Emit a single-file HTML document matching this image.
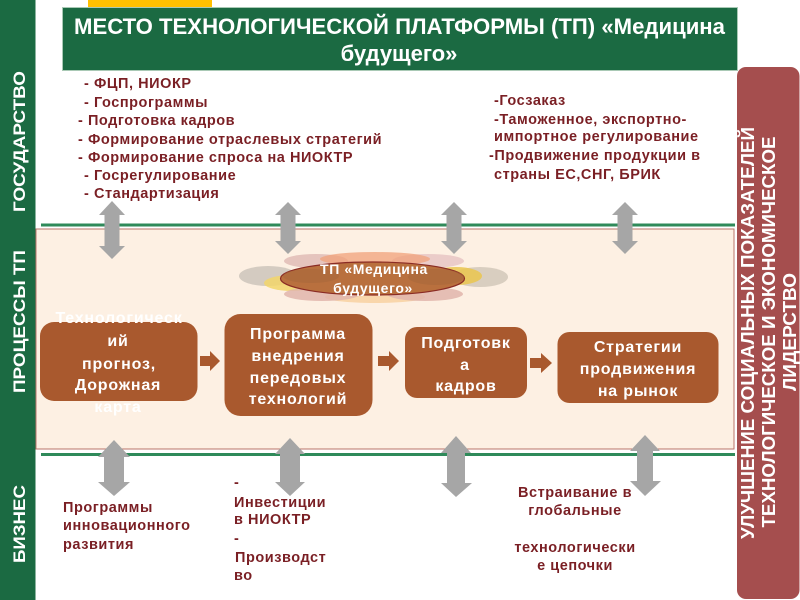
<!DOCTYPE html>
<html lang="ru">
<head>
<meta charset="utf-8">
<title>Место технологической платформы</title>
<style>
html,body{margin:0;padding:0;background:#fff;width:800px;height:600px;overflow:hidden}
svg{display:block;filter:blur(.35px)}
text{font-family:"Liberation Sans",sans-serif;font-weight:bold}
.d{fill:#7a1f24;font-size:14.5px;letter-spacing:.55px}
.w{fill:#fff;font-size:16px;text-anchor:middle;letter-spacing:.8px}
.v{fill:#fff;font-size:17px}
.r{fill:#fff;font-size:18px;text-anchor:middle}
</style>
</head>
<body>
<svg width="800" height="600" viewBox="0 0 800 600" xmlns="http://www.w3.org/2000/svg">
<rect x="0" y="0" width="800" height="600" fill="#fff"/>
<rect x="88" y="0" width="124" height="8" fill="#ffc000"/>
<rect x="0" y="0" width="35.500" height="600" fill="#1b6a42"/>

<!-- panel -->
<rect x="36" y="229" width="698" height="220" fill="#fdf0e3" stroke="#b9736a" stroke-width="1"/>
<rect x="41" y="223.500" width="694" height="3" fill="#2f8a5a"/>
<rect x="41" y="453" width="694" height="3" fill="#2f8a5a"/>

<!-- title -->
<rect x="62.500" y="7.500" width="675" height="63" fill="#1b6a42" stroke="#a9c9b5" stroke-width="1"/>
<text x="74" y="34" fill="#fff" font-size="22" textLength="651" lengthAdjust="spacingAndGlyphs">МЕСТО ТЕХНОЛОГИЧЕСКОЙ ПЛАТФОРМЫ (ТП) «Медицина</text>
<text x="399" y="61" fill="#fff" font-size="22" text-anchor="middle">будущего»</text>

<!-- right bar -->
<rect x="737" y="67" width="62.500" height="532" rx="9" ry="9" fill="#a54e4e"/>
<g transform="rotate(-90)">
<text class="r" x="-333" y="754" textLength="412" lengthAdjust="spacingAndGlyphs">УЛУЧШЕНИЕ СОЦИАЛЬНЫХ ПОКАЗАТЕЛЕЙ</text>
<text class="r" x="-332" y="775" textLength="391" lengthAdjust="spacingAndGlyphs">ТЕХНОЛОГИЧЕСКОЕ И ЭКОНОМИЧЕСКОЕ</text>
<text class="r" x="-332" y="796" textLength="118" lengthAdjust="spacingAndGlyphs">ЛИДЕРСТВО</text>
</g>

<!-- left labels -->
<g transform="rotate(-90)">
<text class="v" x="-212" y="25" textLength="141" lengthAdjust="spacingAndGlyphs">ГОСУДАРСТВО</text>
<text class="v" x="-393" y="25" textLength="143" lengthAdjust="spacingAndGlyphs">ПРОЦЕССЫ ТП</text>
<text class="v" x="-563" y="25" textLength="78" lengthAdjust="spacingAndGlyphs">БИЗНЕС</text>
</g>

<!-- top text left -->
<text class="d" x="84" y="88">- ФЦП, НИОКР</text>
<text class="d" x="84" y="107">- Госпрограммы</text>
<text class="d" x="78" y="125">- Подготовка кадров</text>
<text class="d" x="78" y="144">- Формирование отраслевых стратегий</text>
<text class="d" x="78" y="162">- Формирование спроса на НИОКТР</text>
<text class="d" x="84" y="180">- Госрегулирование</text>
<text class="d" x="84" y="198">- Стандартизация</text>

<!-- top text right -->
<text class="d" x="494" y="105">-Госзаказ</text>
<text class="d" x="494" y="124">-Таможенное, экспортно-</text>
<text class="d" x="494" y="141">импортное регулирование</text>
<text class="d" x="489" y="160">-Продвижение продукции в</text>
<text class="d" x="494" y="179">страны ЕС,СНГ, БРИК</text>

<!-- top arrows -->
<g fill="#a6a6a6">
<polygon points="112,201 125,215 119.500,215 119.500,246 125,246 112,259 99,246 104.500,246 104.500,215 99,215"/>
<polygon points="288,202 301,215 295.500,215 295.500,241 301,241 288,254 275,241 280.500,241 280.500,215 275,215"/>
<polygon points="454,202 467,215 461.500,215 461.500,241 467,241 454,254 441,241 446.500,241 446.500,215 441,215"/>
<polygon points="625,202 638,215 632.500,215 632.500,241 638,241 625,254 612,241 617.500,241 617.500,215 612,215"/>
<!-- bottom arrows -->
<polygon points="114,440 130,457 124,457 124,482 130,482 114,496 98,482 104,482 104,457 98,457"/>
<polygon points="290,438 305,454 300,454 300,482 305,482 290,496 275,482 280,482 280,454 275,454"/>
<polygon points="456,436 471,453 465,453 465,483 472,483 456,497 441,483 447,483 447,453 441,453"/>
<polygon points="645,435 660,451 653,451 653,481 661,481 645,496 630,481 637,481 637,451 630,451"/>
</g>

<!-- burst -->
<g>
<ellipse cx="316" cy="261" rx="32" ry="7" fill="#dcb6b0" opacity=".75"/>
<ellipse cx="428" cy="261" rx="36" ry="7" fill="#e4c0c0" opacity=".75"/>
<ellipse cx="375" cy="259" rx="55" ry="7" fill="#f0a27a" opacity=".75"/>
<ellipse cx="375" cy="297" rx="50" ry="6" fill="#f7cf9c" opacity=".8"/>
<ellipse cx="268" cy="276" rx="29" ry="10" fill="#c9c2b8" opacity=".8"/>
<ellipse cx="480" cy="277" rx="28" ry="10" fill="#d2c8ba" opacity=".85"/>
<ellipse cx="292" cy="283" rx="28" ry="8" fill="#f2d66a" opacity=".85"/>
<ellipse cx="456" cy="276" rx="26" ry="9" fill="#eac64e" opacity=".85"/>
<ellipse cx="322" cy="294" rx="38" ry="7" fill="#e0b5ac" opacity=".85"/>
<ellipse cx="425" cy="294" rx="38" ry="7" fill="#e0b5ac" opacity=".85"/>
<ellipse cx="372.500" cy="278.500" rx="92" ry="16.500" fill="#b9703e" stroke="#8a2b24" stroke-width="1.200"/>
<ellipse cx="311" cy="276" rx="28" ry="7" fill="#a8683c" opacity=".6"/>
<ellipse cx="436" cy="277" rx="28" ry="8" fill="#a8683c" opacity=".6"/>
<text x="374" y="274" fill="#fff" font-size="14" text-anchor="middle" letter-spacing=".6">ТП «Медицина</text>
<text x="373" y="293" fill="#fff" font-size="14" text-anchor="middle" letter-spacing=".6">будущего»</text>
</g>

<!-- boxes -->
<g fill="#a9592e">
<rect x="40" y="322" width="157.500" height="79" rx="14"/>
<rect x="224.500" y="314" width="148" height="102" rx="16"/>
<rect x="405" y="327" width="122" height="71" rx="12"/>
<rect x="557.500" y="332" width="161" height="71" rx="12"/>
<polygon points="200,356 210,356 210,351 220,361 210,371 210,366 200,366"/>
<polygon points="378,356 389,356 389,351 399,361 389,371 389,366 378,366"/>
<polygon points="530,358 541,358 541,353 552,363 541,373 541,368 530,368"/>
</g>

<text class="w" x="119" y="323">Технологическ</text>
<text class="w" x="118" y="346">ий</text>
<text class="w" x="119" y="369">прогноз,</text>
<text class="w" x="118" y="390">Дорожная</text>
<text class="w" x="118" y="412">карта</text>

<text class="w" x="298" y="339">Программа</text>
<text class="w" x="298" y="361">внедрения</text>
<text class="w" x="298" y="383">передовых</text>
<text class="w" x="298" y="404">технологий</text>

<text class="w" x="466" y="348">Подготовк</text>
<text class="w" x="465" y="370">а</text>
<text class="w" x="466" y="391">кадров</text>

<text class="w" x="638" y="352">Стратегии</text>
<text class="w" x="638" y="374">продвижения</text>
<text class="w" x="638" y="396">на рынок</text>

<!-- bottom text -->
<text class="d" x="63" y="512">Программы</text>
<text class="d" x="63" y="530">инновационного</text>
<text class="d" x="63" y="549">развития</text>

<text class="d" x="234" y="487">-</text>
<text class="d" x="234" y="507">Инвестиции</text>
<text class="d" x="234" y="524">в НИОКТР</text>
<text class="d" x="234" y="543">-</text>
<text class="d" x="235" y="562">Производст</text>
<text class="d" x="234" y="580">во</text>

<text class="d" x="575" y="497" text-anchor="middle">Встраивание в</text>
<text class="d" x="575" y="515" text-anchor="middle">глобальные</text>
<text class="d" x="575" y="552" text-anchor="middle">технологически</text>
<text class="d" x="575" y="570" text-anchor="middle">е цепочки</text>
</svg>
</body>
</html>
